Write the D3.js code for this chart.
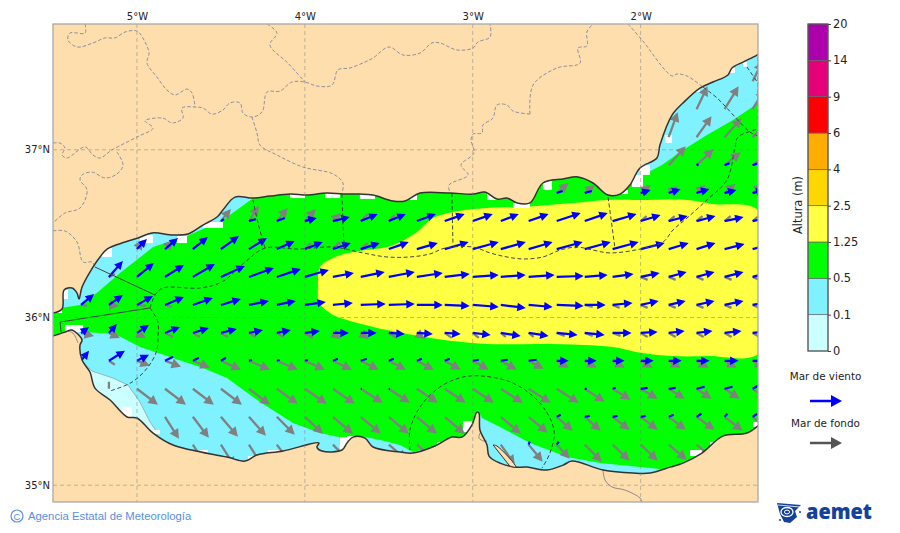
<!DOCTYPE html>
<html><head><meta charset="utf-8">
<script src="https://cdn.jsdelivr.net/npm/d3@7"></script>
<style>html,body{margin:0;padding:0;background:#fff}svg{display:block}text{font-family:"DejaVu Sans",sans-serif}</style>
</head><body><svg id="c" width="900" height="533"></svg>
<script>
const _=null;
const lonTicks=[-5,-4,-3,-2], latTicks=[37,36,35];
const cbLabels=["0","0.1","0.5","1.25","2.5","4","6","9","14","20"];
const cbColors=["#ccffff","#80f2ff","#00ff00","#ffff44","#ffd700","#ffad00","#ff0000","#e6007a","#ab00ab"];
const gridLons=[-5.333,-5.167,-5,-4.833,-4.667,-4.5,-4.333,-4.167,-4,-3.833,-3.667,-3.5,-3.333,-3.167,-3,-2.833,-2.667,-2.5,-2.333,-2.167,-2,-1.833,-1.667,-1.5,-1.333];
const gridLats=[37.408,37.242,37.075,36.908,36.742,36.575,36.408,36.242,36.075,35.908,35.742,35.575,35.408,35.242];
// coast, lon/lat, west to east along the north shore
const northCoast=[[-5.518,36.027],[-5.5,36.027],[-5.446,36.051],[-5.434,36.164],[-5.387,36.176],[-5.357,36.146],[-5.345,36.110],[-5.327,36.182],[-5.262,36.301],[-5.220,36.361],[-5.178,36.408],[-5.071,36.450],[-4.994,36.474],[-4.910,36.504],[-4.785,36.492],[-4.696,36.498],[-4.607,36.551],[-4.523,36.599],[-4.488,36.641],[-4.416,36.718],[-4.309,36.712],[-4.208,36.724],[-4.088,36.736],[-3.987,36.730],[-3.868,36.742],[-3.773,36.736],[-3.672,36.736],[-3.594,36.730],[-3.475,36.695],[-3.403,36.695],[-3.314,36.742],[-3.135,36.742],[-2.998,36.736],[-2.927,36.748],[-2.856,36.706],[-2.796,36.712],[-2.736,36.683],[-2.659,36.683],[-2.582,36.802],[-2.462,36.826],[-2.373,36.838],[-2.284,36.802],[-2.194,36.730],[-2.123,36.736],[-2.064,36.790],[-2.004,36.891],[-1.903,36.951],[-1.885,37.028],[-1.813,37.207],[-1.748,37.279],[-1.647,37.368],[-1.569,37.404],[-1.480,37.446],[-1.456,37.488],[-1.390,37.523],[-1.307,37.565],[-1.289,37.577]];
// coast, east to west along the south shore
const southCoast=[[-1.289,35.365],[-1.367,35.311],[-1.510,35.293],[-1.635,35.192],[-1.748,35.132],[-1.825,35.108],[-1.944,35.073],[-2.046,35.073],[-2.224,35.091],[-2.409,35.144],[-2.462,35.120],[-2.558,35.091],[-2.677,35.108],[-2.748,35.108],[-2.838,35.132],[-2.903,35.174],[-2.915,35.240],[-2.957,35.329],[-2.963,35.430],[-2.975,35.436],[-3.005,35.359],[-3.064,35.287],[-3.124,35.287],[-3.225,35.234],[-3.356,35.192],[-3.433,35.198],[-3.594,35.228],[-3.642,35.281],[-3.713,35.287],[-3.749,35.252],[-3.779,35.210],[-3.898,35.204],[-3.928,35.228],[-3.916,35.252],[-4.130,35.204],[-4.285,35.180],[-4.356,35.144],[-4.464,35.168],[-4.785,35.240],[-4.904,35.311],[-5.000,35.401],[-5.059,35.407],[-5.160,35.508],[-5.250,35.579],[-5.280,35.675],[-5.327,35.746],[-5.339,35.836],[-5.327,35.866],[-5.387,35.925],[-5.429,35.913],[-5.5,35.890],[-5.518,35.890]];
const spit=[[-2.879,35.240],[-2.856,35.234],[-2.743,35.108],[-2.779,35.114]];
// wave height bands
const bandLow=[[-5.321,35.728],[-5.268,35.681],[-5.143,35.639],[-5.053,35.597],[-4.982,35.496],[-4.922,35.377],[-4.881,35.317],[-4.881,35.210],[-5.399,35.210],[-5.399,35.728]];
const bandMid=[[-5.518,36.040],[-5.458,36.057],[-5.339,36.074],[-5.232,36.152],[-5.101,36.265],[-4.904,36.420],[-4.702,36.486],[-4.607,36.528],[-4.488,36.581],[-4.315,36.707],[-4.315,36.900],[-2.100,36.900],[-2.052,36.832],[-1.987,36.850],[-1.873,36.909],[-1.748,36.999],[-1.605,37.088],[-1.450,37.178],[-1.289,37.285],[-1.260,35.030],[-1.825,35.030],[-1.885,35.097],[-2.242,35.132],[-2.439,35.168],[-2.659,35.252],[-2.838,35.347],[-2.945,35.401],[-2.969,35.448],[-3.005,35.269],[-3.285,35.150],[-3.285,35.216],[-3.356,35.198],[-3.433,35.240],[-3.552,35.269],[-3.642,35.287],[-3.773,35.281],[-3.910,35.311],[-4.071,35.371],[-4.267,35.496],[-4.464,35.639],[-4.607,35.699],[-4.785,35.758],[-4.982,35.824],[-5.131,35.901],[-5.321,35.913],[-5.429,35.913],[-5.518,35.884]];
const bandHigh=[[-3.922,36.104],[-3.922,36.194],[-3.910,36.301],[-3.832,36.355],[-3.713,36.390],[-3.511,36.420],[-3.433,36.450],[-3.332,36.510],[-3.237,36.593],[-3.118,36.629],[-2.915,36.653],[-2.719,36.659],[-2.403,36.683],[-2.200,36.701],[-2.004,36.701],[-1.724,36.701],[-1.569,36.677],[-1.289,36.629],[-1.289,35.794],[-1.605,35.770],[-1.808,35.770],[-1.992,35.788],[-2.165,35.824],[-2.343,35.836],[-2.600,35.842],[-2.915,35.842],[-3.213,35.872],[-3.511,35.925],[-3.749,35.985],[-3.832,36.015],[-3.910,36.074]];
// cells without data along the coast: [west, north, east, south]
const noData=[[-5.429,35.955,-5.321,35.913],[-5.440,36.164,-5.411,36.110],[-5.5,36.051,-5.446,36.027],[-5.208,36.414,-5.149,36.361],[-4.982,36.492,-4.904,36.444],[-4.761,36.486,-4.702,36.444],[-4.607,36.569,-4.488,36.534],[-4.088,36.742,-3.999,36.712],[-3.880,36.742,-3.791,36.712],[-3.672,36.736,-3.582,36.707],[-3.374,36.730,-3.332,36.701],[-2.915,36.742,-2.856,36.701],[-2.760,36.683,-2.659,36.653],[-2.582,36.814,-2.528,36.760],[-2.111,36.760,-2.075,36.736],[-2.004,36.909,-1.944,36.850],[-2.052,36.850,-1.986,36.778],[-1.855,37.088,-1.813,37.041],[-1.468,37.488,-1.438,37.458],[-1.390,37.523,-1.367,37.494],[-1.676,37.368,-1.647,37.345],[-3.058,35.383,-3.005,35.317],[-3.213,35.257,-3.165,35.234],[-1.706,35.210,-1.635,35.174],[-1.587,35.257,-1.545,35.239],[-1.331,35.377,-1.289,35.347],[-5.089,35.466,-5.029,35.407],[-3.791,35.287,-3.749,35.210],[-3.749,35.293,-3.672,35.269],[-4.339,35.174,-4.297,35.150],[-4.220,35.210,-4.130,35.198],[-4.910,35.329,-4.863,35.305],[-4.625,35.210,-4.577,35.192]];
// maritime zone limits
const zoneSolid=[[[-5.250,36.301],[-4.892,36.134]],[[-5.452,35.913],[-5.458,35.973],[-4.922,36.057]]];
const zoneDashed=[
[[-4.922,36.057],[-4.892,36.134],[-4.845,36.176],[-4.625,36.176],[-4.494,36.212],[-4.356,36.331],[-4.237,36.414],[-4.041,36.408],[-3.832,36.420],[-3.654,36.385],[-3.511,36.361],[-3.374,36.361],[-3.255,36.379],[-3.165,36.414],[-2.998,36.420],[-2.897,36.385],[-2.796,36.361],[-2.701,36.349],[-2.582,36.361],[-2.480,36.402],[-2.379,36.420],[-2.284,36.402],[-2.183,36.385],[-2.004,36.408],[-1.867,36.450],[-1.807,36.522],[-1.724,36.593],[-1.605,36.701],[-1.486,36.820],[-1.438,37.017],[-1.420,37.076],[-1.301,37.124]],
[[-4.922,36.057],[-4.875,35.973],[-4.875,35.884],[-4.881,35.806],[-4.934,35.705],[-5.029,35.615],[-5.160,35.562]],
[[-4.309,36.701],[-4.279,36.563],[-4.237,36.414]],
[[-3.779,36.736],[-3.767,36.450],[-3.761,36.408]],
[[-3.124,36.742],[-3.118,36.438]],
[[-2.194,36.718],[-2.153,36.414]],
[[-3.374,35.210],[-3.374,35.329],[-3.314,35.466],[-3.195,35.586],[-3.058,35.645],[-2.939,35.651],[-2.760,35.609],[-2.600,35.490],[-2.516,35.329],[-2.540,35.192],[-2.588,35.102]],
[[-1.629,37.374],[-1.545,37.309],[-1.349,37.106],[-1.301,37.082]],
[[-1.301,37.553],[-1.301,37.124]],
[[-1.367,37.494],[-1.301,37.398]]];
// borders on land
const landDashed=[
[[-5.309,37.75],[-5.309,37.696],[-5.399,37.696],[-5.411,37.655],[-5.357,37.613],[-5.262,37.637],[-5.190,37.667],[-5.131,37.667],[-5.071,37.702],[-5.0,37.708],[-4.952,37.643],[-4.928,37.577],[-4.940,37.517],[-4.881,37.434],[-4.821,37.356],[-4.773,37.327],[-4.702,37.362],[-4.672,37.339],[-4.654,37.255]],
[[-5.5,37.040],[-5.458,37.040],[-5.429,37.011],[-5.446,36.969],[-5.417,36.951],[-5.309,37.017],[-5.262,36.969],[-5.220,36.951],[-5.149,36.999],[-5.0,37.076],[-4.904,37.130],[-4.952,37.172],[-4.845,37.189],[-4.791,37.160],[-4.726,37.189],[-4.732,37.249],[-4.654,37.255],[-4.607,37.249],[-4.553,37.213],[-4.488,37.237],[-4.446,37.279],[-4.386,37.279],[-4.368,37.219],[-4.315,37.195],[-4.255,37.225],[-4.225,37.344],[-4.148,37.350],[-4.077,37.404],[-3.999,37.404],[-3.928,37.380],[-3.838,37.386],[-3.803,37.476],[-3.731,37.488],[-3.642,37.523],[-3.594,37.547],[-3.499,37.613],[-3.415,37.565],[-3.314,37.577],[-3.243,37.637],[-3.195,37.637],[-3.094,37.595],[-2.998,37.607],[-2.969,37.643],[-2.897,37.672],[-2.897,37.75]],
[[-4.225,37.75],[-4.166,37.696],[-4.208,37.625],[-4.101,37.517],[-3.999,37.404]],
[[-4.315,37.195],[-4.285,37.100],[-4.267,37.028],[-4.166,36.969],[-4.011,36.897],[-3.832,36.856],[-3.773,36.802],[-3.779,36.742]],
[[-5.119,36.987],[-5.083,36.909],[-5.119,36.856],[-5.190,36.832],[-5.268,36.867],[-5.327,36.850],[-5.339,36.820],[-5.297,36.760],[-5.339,36.653],[-5.429,36.623],[-5.5,36.563]],
[[-5.5,36.516],[-5.429,36.516],[-5.357,36.450],[-5.321,36.331],[-5.268,36.331],[-5.250,36.301]],
[[-2.659,37.213],[-2.760,37.231],[-2.796,37.267],[-2.856,37.267],[-2.880,37.189],[-2.939,37.148],[-2.945,37.100],[-2.998,37.094],[-3.010,37.058],[-2.993,36.981],[-3.070,36.909],[-3.028,36.850],[-3.141,36.790],[-3.135,36.742]],
[[-2.659,37.213],[-2.641,37.386],[-2.498,37.488],[-2.361,37.517],[-2.373,37.607],[-2.320,37.619],[-2.320,37.702],[-2.284,37.75]],
[[-2.075,37.75],[-1.992,37.655],[-1.813,37.440],[-1.783,37.452],[-1.724,37.440],[-1.629,37.374]]];
const landSolid=[
[[-2.224,35.091],[-2.212,35.031],[-2.171,34.990],[-2.093,34.971],[-2.004,34.924],[-1.992,34.90]],
[[-2.957,35.311],[-2.963,35.281],[-2.933,35.263],[-2.915,35.263]],
[[-5.417,35.919],[-5.381,35.907],[-5.351,35.848]]];
// wind sea: one [east, north] vector per grid cell
const blueVectors=[
[_,_,_,_,_,_,_,_,_,_,_,_,_,_,_,_,_,_,_,_,_,_,_,_,_],
[_,_,_,_,_,_,_,_,_,_,_,_,_,_,_,_,_,_,_,_,_,_,_,_,_],
[_,_,_,_,_,_,_,_,_,_,_,_,_,_,_,_,_,_,_,_,_,_,_,_,_],
[_,_,_,_,_,_,_,_,_,_,_,_,_,_,_,_,_,_,_,_,_,_,[2,1],[5,2],[6,2]],
[_,_,_,_,_,_,_,_,_,_,_,_,_,_,_,_,_,[6,2],[7,2],_,[10,3],[12,4],[13,4],[12,3],[12,3]],
[_,_,_,_,_,[3,2],[7,2],[8,3],[12,3],[17,4],[17,7],[17,7],[19,7],[20,7],[20,7],[18,7],[20,7],[24,8],[23,8],[24,7],[20,6],[19,5],[19,5],[19,4],[19,4]],
[_,_,[10,10],[13,11],[15,12],[18,13],[18,11],[18,8],[18,7],[18,6],[19,6],[20,7],[21,6],[24,7],[26,7],[25,7],[24,7],[26,7],[26,7],[26,7],[24,6],[20,6],[19,6],[20,5],[19,5]],
[_,[14,16],[17,14],[19,12],[22,13],[24,11],[25,9],[24,8],[24,7],[21,4],[24,5],[26,5],[26,4],[25,3],[26,2],[25,2],[26,2],[27,1],[23,2],[21,3],[19,4],[18,5],[18,5],[19,5],[19,5]],
[[13,11],[14,10],[16,9],[19,8],[20,7],[20,6],[20,4],[19,4],[21,3],[20,2],[25,1],[26,1],[26,0],[25,-1],[26,-2],[25,-3],[24,-2],[27,-1],[21,0],[20,2],[18,4],[17,4],[18,4],[19,4],[19,4]],
[[8,6],[8,9],[12,8],[15,6],[16,5],[16,4],[14,3],[14,3],[15,2],[16,0],[16,0],[16,-1],[16,-1],[16,-1],[18,-2],[20,-3],[20,-3],[21,-2],[20,-2],[19,0],[17,1],[16,2],[16,2],[17,2],[17,2]],
[[8,10],[16,10],[12,6],[8,4],[6,3],[5,3],[3,1],[3,1],[3,1],[5,2],[6,2],[5,2],[5,2],[5,2],[6,1],[7,1],[8,1],[12,0],[12,0],[12,0],[13,0],[13,0],[13,0],[14,0],[14,0]],
[_,_,_,_,_,_,_,_,_,_,[1,0],[1,0],_,_,_,_,_,_,[2,0],[3,1],[7,1],[7,1],[8,2],[8,2],[7,4]],
[_,_,_,_,_,_,_,_,_,_,_,_,_,_,_,_,_,[4,2],[5,1],[5,1],[5,1],[5,2],[5,3],[3,3],[5,3]],
[_,_,_,_,_,_,_,_,_,_,_,_,_,_,_,_,[1,3],[2,3],_,_,_,_,_,_,_]];
// swell: one [east, north] vector per grid cell
const greyVectors=[
[_,_,_,_,_,_,_,_,_,_,_,_,_,_,_,_,_,_,_,_,_,_,_,_,[10,20]],
[_,_,_,_,_,_,_,_,_,_,_,_,_,_,_,_,_,_,_,_,_,_,[11,23],[14,23],[12,20]],
[_,_,_,_,_,_,_,_,_,_,_,_,_,_,_,_,_,_,_,_,_,[9,25],[15,21],[17,19],[16,17]],
[_,_,_,_,_,_,_,_,_,_,_,_,_,_,_,_,_,_,_,_,_,[17,19],[17,16],[16,13],[16,13]],
[_,_,_,_,_,_,_,_,_,_,_,_,_,_,_,_,_,[12,10],[10,8],_,[10,8],[9,7],[9,8],[11,9],[11,9]],
[_,_,_,_,_,[10,12],[10,15],[11,13],[11,12],[8,8],[7,7],[6,6],_,_,_,_,_,_,_,_,[6,5],[6,5],[6,5],[6,5],[6,5]],
[_,_,[6,9],[8,9],[6,5],[5,4],_,_,[6,6],[7,7],[7,6],_,_,_,_,_,_,_,_,_,_,_,_,_,_],
[_,[6,3],[5,4],[5,3],_,_,_,_,_,_,_,_,_,_,_,_,_,_,_,_,[7,-3],[7,-3],[7,-3],[7,-3],[7,-3]],
[[6,-1],[10,-1],[9,-1],[7,-2],_,_,_,_,_,_,_,_,_,_,_,_,_,_,[8,-2],[7,-3],[7,-3],[7,-3],[7,-3],[7,-3],[7,-3]],
[[13,-3],[11,-5],[9,-5],[8,-4],[7,-4],[7,-4],[7,-4],[7,-4],[8,-5],[8,-6],[8,-6],[8,-5],[8,-6],[7,-5],[6,-5],[5,-4],[5,-4],[8,-3],[8,-3],[8,-3],[7,-4],[7,-4],[7,-4],[7,-4],[7,-4]],
[[3,-5],[6,-4],[13,-5],[16,-6],[17,-7],[20,-9],[21,-9],[21,-9],[20,-9],[19,-9],[18,-9],[17,-9],[17,-9],[16,-9],[16,-9],[16,-9],[15,-8],[12,-7],[12,-7],[12,-7],[12,-7],[12,-7],[12,-7],[12,-7],[12,-7]],
[_,[0,7],[21,-16],[21,-16],[21,-16],[21,-16],[21,-16],[21,-15],[22,-15],[22,-15],[22,-14],[21,-14],[21,-14],[21,-14],[21,-14],[22,-14],[22,-14],[22,-14],[20,-13],[18,-11],[17,-10],[16,-10],[15,-10],[15,-10],[14,-10]],
[_,_,_,[14,-22],[16,-21],[17,-20],[17,-19],[18,-18],[18,-17],[20,-17],[20,-17],[20,-17],[20,-17],[20,-17],_,[20,-17],[19,-16],[16,-14],[16,-14],[17,-13],[17,-13],[17,-13],[18,-13],[18,-14],[18,-14]],
[_,_,_,_,[14,-22],[14,-22],[14,-22],[15,-20],_,[18,-18],_,[18,-15],[18,-15],_,_,[14,-20],[14,-17],[13,-14],[17,-17],[17,-16],[17,-16],[18,-15],[18,-15],_,_]];

const svg=d3.select("#c");
const L=53,R=758,T=24,B=502;
const x=d3.scaleLinear().domain([-5.5,-1.301]).range([L,R]);
const y=d3.scaleLinear().domain([37.75,34.9]).range([T,B]);
const vec=d3.scaleLinear().domain([0,1]).range([0,1]);
const line=d3.line().x(d=>x(d[0])).y(d=>y(d[1])).curve(d3.curveCatmullRom.alpha(0.5));
const straight=d3.line().x(d=>x(d[0])).y(d=>y(d[1]));
const LAND="#ffdead";
const defs=svg.append("defs");
defs.append("clipPath").attr("id","plot").append("rect").attr("x",L).attr("y",T).attr("width",R-L).attr("height",B-T);
const seaD=line(northCoast)+"L"+line(southCoast).slice(1)+"Z";
defs.append("clipPath").attr("id","sea").append("path").attr("d",seaD);

const map=svg.append("g").attr("clip-path","url(#plot)");
map.append("rect").attr("x",L).attr("y",T).attr("width",R-L).attr("height",B-T).attr("fill",LAND);
const sea=map.append("g").attr("clip-path","url(#sea)");
sea.append("path").attr("d",seaD).attr("fill",cbColors[1]);
sea.append("path").attr("d",straight(bandLow)+"Z").attr("fill",cbColors[0]).attr("stroke","#8a9a9a").attr("stroke-width",.7);
sea.append("path").attr("d",straight(bandMid)+"Z").attr("fill",cbColors[2]);
sea.append("path").attr("d",line(bandHigh)+"Z").attr("fill",cbColors[3]);
sea.selectAll("rect.nd").data(noData).join("rect").attr("class","nd").attr("fill","#fff")
 .attr("x",d=>x(d[0])).attr("y",d=>y(d[1])).attr("width",d=>x(d[2])-x(d[0])).attr("height",d=>y(d[3])-y(d[1]));

function arrowPath(x0,y0,u,v,hl,hw,lw){
  const dx=vec(u),dy=-vec(v),n=Math.hypot(dx,dy);
  if(!n)return "";
  const ux=dx/n,uy=dy/n,px=-uy,py=ux;
  const a=lw/2;
  if(n<10){
    return `M${x0+px*a},${y0+py*a}L${x0+dx+px*a},${y0+dy+py*a}L${x0+dx-px*a},${y0+dy-py*a}L${x0-px*a},${y0-py*a}Z`;
  }
  const nx=x0+dx-ux*hl,ny=y0+dy-uy*hl,h=hw/2;
  return `M${x0+px*a},${y0+py*a}L${nx+px*a},${ny+py*a}L${nx+px*h},${ny+py*h}L${x0+dx},${y0+dy}L${nx-px*h},${ny-py*h}L${nx-px*a},${ny-py*a}L${x0-px*a},${y0-py*a}Z`;
}
function drawField(rows,color,hl,hw,lw){
  const cells=[];
  rows.forEach((r,i)=>r.forEach((c,j)=>{if(c)cells.push({lon:gridLons[j],lat:gridLats[i],u:c[0],v:c[1]});}));
  sea.append("g").selectAll("path").data(cells).join("path").attr("fill",color)
    .attr("d",d=>arrowPath(x(d.lon),y(d.lat),d.u,d.v,hl,hw,lw));
}
drawField(greyVectors,"#808080",9.5,10,2.3);
drawField(blueVectors,"#0000ff",8.5,8.5,2.2);

const mg=map.append("g").attr("fill","none");
mg.selectAll("path.ls").data(landSolid).join("path").attr("class","ls").attr("d",line).attr("stroke","#808088").attr("stroke-width",.9);
mg.selectAll("path.ld").data(landDashed).join("path").attr("class","ld").attr("d",line).attr("stroke","#8f8f9e").attr("stroke-width",1).attr("stroke-dasharray","3.5,2");
mg.selectAll("path.zs").data(zoneSolid).join("path").attr("class","zs").attr("d",straight).attr("stroke","#444").attr("stroke-width",1);
mg.selectAll("path.zd").data(zoneDashed).join("path").attr("class","zd").attr("d",line).attr("stroke","#444").attr("stroke-width",1).attr("stroke-dasharray","4,2.5");
map.append("path").attr("d",line(spit)+"Z").attr("fill",LAND).attr("stroke","#333").attr("stroke-width",1);
mg.append("path").attr("d",line(northCoast)).attr("stroke","#333").attr("stroke-width",1.5);
mg.append("path").attr("d",line(southCoast)).attr("stroke","#333").attr("stroke-width",1.5);
// graticule
const grid=map.append("g").attr("stroke","#808080").attr("stroke-opacity",.5).attr("stroke-width",1).attr("stroke-dasharray","4,3");
grid.selectAll("line.v").data(lonTicks).join("line").attr("class","v").attr("x1",d=>x(d)).attr("x2",d=>x(d)).attr("y1",T).attr("y2",B);
grid.selectAll("line.h").data(latTicks).join("line").attr("class","h").attr("y1",d=>y(d)).attr("y2",d=>y(d)).attr("x1",L).attr("x2",R);
svg.append("rect").attr("x",L).attr("y",T).attr("width",R-L).attr("height",B-T).attr("fill","none").attr("stroke","#aaa").attr("stroke-width",1.3);

const lonAxis=d3.axisTop(x).tickValues(lonTicks).tickSize(0).tickPadding(4).tickFormat(d=>Math.abs(d)+"°W");
const latAxis=d3.axisLeft(y).tickValues(latTicks).tickSize(0).tickPadding(3).tickFormat(d=>d+"°N");
const ax1=svg.append("g").attr("transform",`translate(0,${T})`).call(lonAxis);
const ax2=svg.append("g").attr("transform",`translate(${L},0)`).call(latAxis);
[ax1,ax2].forEach(a=>{a.select(".domain").remove();a.selectAll("text").attr("fill","#222").style("font-size","10px").style("font-family","DejaVu Sans");});

// colour bar
const cbX=808,cbW=20,cbT=24,cbB=351;
const cbY=d3.scalePoint().domain(cbLabels).range([cbB,cbT]);
const cb=svg.append("g");
cb.selectAll("rect").data(cbColors).join("rect").attr("x",cbX).attr("width",cbW)
 .attr("y",(d,i)=>cbY(cbLabels[i+1])).attr("height",(d,i)=>cbY(cbLabels[i])-cbY(cbLabels[i+1])).attr("fill",d=>d).attr("stroke","#666").attr("stroke-width",.7);
cb.append("rect").attr("x",cbX).attr("y",cbT).attr("width",cbW).attr("height",cbB-cbT).attr("fill","none").attr("stroke","#555").attr("stroke-width",1.1);
const cbAxis=svg.append("g").attr("transform",`translate(${cbX+cbW},0)`).call(d3.axisRight(cbY).tickSize(3).tickPadding(2));
cbAxis.select(".domain").remove();
cbAxis.selectAll("line").attr("stroke","#444");
cbAxis.selectAll("text").attr("fill","#222").style("font-size","11.4px").style("font-family","DejaVu Sans");
svg.append("text").attr("transform","translate(802,205) rotate(-90)").attr("text-anchor","middle").attr("fill","#222").style("font-size","11.4px").text("Altura (m)");

// legend
const legend=[["Mar de viento",376,"#0000ff",401],["Mar de fondo",423,"#555555",443]];
legend.forEach(l=>{
  svg.append("text").attr("x",825.5).attr("y",l[1]+3.5).attr("text-anchor","middle").attr("fill","#222").style("font-size","10.4px").text(l[0]);
  svg.append("path").attr("fill",l[2]).attr("d",arrowPath(810,l[3],32,0,11,12,2.3));
});

// footer
svg.append("circle").attr("cx",17).attr("cy",516).attr("r",6).attr("fill","none").attr("stroke","#5b8fdc").attr("stroke-width",1.2);
svg.append("text").attr("x",17).attr("y",519.5).attr("text-anchor","middle").attr("fill","#5b8fdc").style("font-size","9.5px").style("font-family","Liberation Sans").text("C");
svg.append("text").attr("x",28).attr("y",520).attr("fill","#5b8fdc").style("font-size","11.3px").style("font-family","Liberation Sans").text("Agencia Estatal de Meteorología");

// aemet mark
const logo=svg.append("g").attr("fill","#14429b");
logo.append("path").attr("d","M777,503L801,505L795,511L797,517L790,523L784,522L780,514Z");
logo.append("ellipse").attr("cx",787).attr("cy",512).attr("rx",6).attr("ry",4.5).attr("fill","none").attr("stroke","#fff").attr("stroke-width",1.3);
logo.append("ellipse").attr("cx",787).attr("cy",512).attr("rx",2.6).attr("ry",1.9).attr("fill","none").attr("stroke","#fff").attr("stroke-width",1);
logo.append("path").attr("d","M778,505L800,507").attr("stroke","#fff").attr("stroke-width",.8);
logo.append("circle").attr("cx",800).attr("cy",512).attr("r",1);
logo.append("circle").attr("cx",780).attr("cy",520).attr("r",1);
svg.append("text").attr("x",806).attr("y",519).attr("fill","#14429b").attr("textLength",66).attr("lengthAdjust","spacingAndGlyphs").style("font-size","21px").style("font-weight","800").style("font-family","Open Sans").text("aemet");
</script></body></html>
